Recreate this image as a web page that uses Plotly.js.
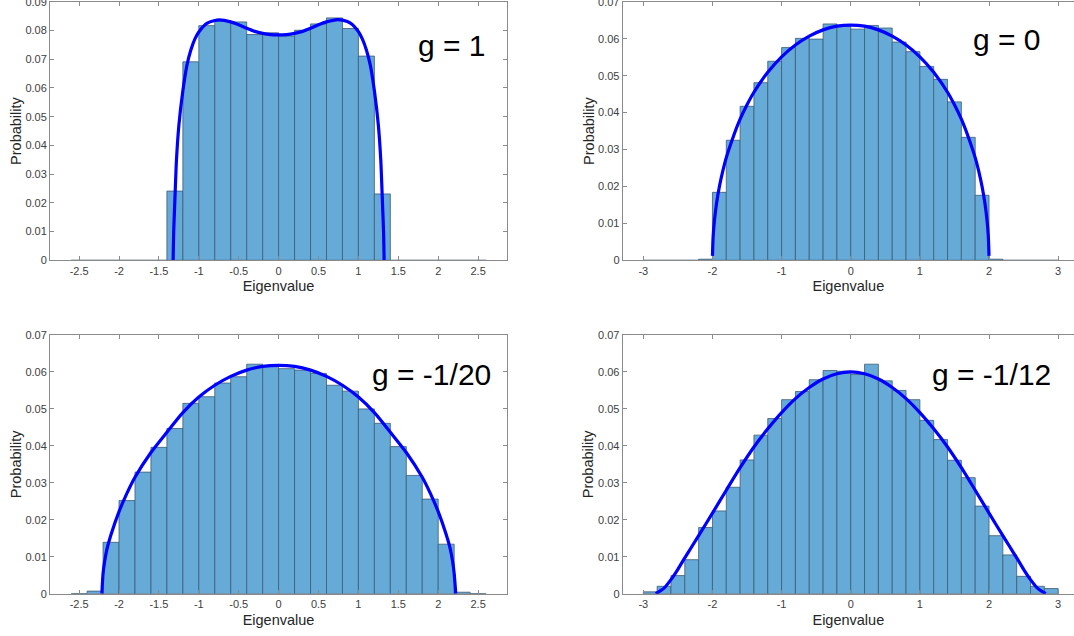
<!DOCTYPE html>
<html><head><meta charset="utf-8">
<script src="https://cdn.plot.ly/plotly-3.0.1.min.js"></script>
<style>html,body{margin:0;padding:0;background:#fff;} #chart{width:1074px;height:636px;}</style>
</head><body><div id="chart"></div>
<script>
// ---- bin centres (bin width 0.2) ----
const binsA = [-2.5,-2.3,-2.1,-1.9,-1.7,-1.5,-1.3,-1.1,-0.9,-0.7,-0.5,-0.3,-0.1,0.1,0.3,0.5,0.7,0.9,1.1,1.3,1.5,1.7,1.9,2.1,2.3,2.5];
const binsB = [-2.9,-2.7,-2.5,-2.3,-2.1,-1.9,-1.7,-1.5,-1.3,-1.1,-0.9,-0.7,-0.5,-0.3,-0.1,0.1,0.3,0.5,0.7,0.9,1.1,1.3,1.5,1.7,1.9,2.1,2.3,2.5,2.7,2.9];
const binWidth = 0.2;

// ---- histogram probabilities ----
const probG1 = [0,0,0,0,0,0,0.0241,0.0691,0.0817,0.0833,0.0830,0.0786,0.0792,0.0781,0.0801,0.0823,0.0844,0.0807,0.0711,0.0231,0,0,0,0,0,0];
const probG0 = [0,0,0,0,0.0003,0.0184,0.0325,0.0417,0.0481,0.0539,0.0576,0.0601,0.0599,0.0640,0.0636,0.0626,0.0636,0.0629,0.0591,0.0565,0.0525,0.0490,0.0429,0.0333,0.0176,0.0003,0,0,0,0];
const probG20 = [0,0.0007,0.0139,0.0252,0.0329,0.0396,0.0447,0.0515,0.0533,0.0570,0.0587,0.0621,0.0617,0.0609,0.0605,0.0596,0.0564,0.0548,0.0500,0.0461,0.0398,0.0320,0.0256,0.0134,0.0004,0];
const probG12 = [0.0005,0.0020,0.0049,0.0092,0.0179,0.0224,0.0288,0.0362,0.0429,0.0474,0.0525,0.0547,0.0579,0.0604,0.0602,0.0593,0.0621,0.0576,0.0550,0.0525,0.0469,0.0417,0.0361,0.0314,0.0237,0.0157,0.0105,0.0047,0.0020,0.0014];

// ---- theoretical curves ----
const curveG1x = [-1.322,-1.315,-1.30,-1.28,-1.25,-1.20,-1.15,-1.10,-1.05,-1.0,-0.9,-0.8,-0.74,-0.6,-0.5,-0.4,-0.3,-0.2,-0.1,0,0.1,0.2,0.3,0.4,0.5,0.6,0.74,0.8,0.9,1.0,1.05,1.10,1.15,1.20,1.25,1.28,1.30,1.315,1.322];
const curveG1y = [0,0.010,0.021,0.035,0.047,0.059,0.0678,0.0732,0.0770,0.0795,0.0825,0.0835,0.0837,0.0830,0.0820,0.0808,0.0797,0.0790,0.0786,0.0785,0.0786,0.0790,0.0797,0.0808,0.0820,0.0830,0.0838,0.0836,0.0826,0.0796,0.0770,0.0732,0.0678,0.059,0.047,0.035,0.021,0.010,0];
const curveG0x = [-2.0,-1.99,-1.97,-1.94,-1.9,-1.85,-1.8,-1.7,-1.6,-1.5,-1.4,-1.2,-1.0,-0.8,-0.6,-0.4,-0.2,0,0.2,0.4,0.6,0.8,1.0,1.2,1.4,1.5,1.6,1.7,1.8,1.85,1.9,1.94,1.97,1.99,2.0];
const curveG0y = [0.0012,0.0064,0.0110,0.0155,0.0199,0.0242,0.0278,0.0334,0.0382,0.0421,0.0455,0.0509,0.0551,0.0583,0.0607,0.0624,0.0634,0.0637,0.0634,0.0624,0.0607,0.0583,0.0551,0.0509,0.0455,0.0421,0.0382,0.0334,0.0278,0.0242,0.0199,0.0155,0.0110,0.0064,0.0012];
const curveG20x = [-2.215,-2.20,-2.18,-2.15,-2.10,-2.0,-1.9,-1.8,-1.6,-1.4,-1.2,-1.0,-0.8,-0.6,-0.4,-0.2,0,0.2,0.4,0.6,0.8,1.0,1.2,1.4,1.6,1.8,1.9,2.0,2.10,2.15,2.18,2.20,2.22];
const curveG20y = [0,0.0055,0.0088,0.0122,0.0160,0.0222,0.0272,0.0315,0.0382,0.0437,0.0490,0.0532,0.0564,0.0588,0.0605,0.0615,0.0618,0.0615,0.0605,0.0588,0.0564,0.0532,0.0490,0.0437,0.0382,0.0315,0.0272,0.0222,0.0160,0.0122,0.0088,0.0055,0];
const curveG12x = [-2.82,-2.7,-2.6,-2.5,-2.4,-2.3,-2.2,-2.0,-1.8,-1.6,-1.4,-1.2,-1.0,-0.8,-0.6,-0.4,-0.2,0,0.2,0.4,0.6,0.8,1.0,1.2,1.4,1.6,1.8,2.0,2.2,2.3,2.4,2.5,2.6,2.7,2.82];
const curveG12y = [0,0.0015,0.0038,0.0066,0.0097,0.0127,0.0157,0.0218,0.0280,0.0341,0.0397,0.0446,0.0490,0.0528,0.0558,0.0581,0.0595,0.0600,0.0595,0.0581,0.0558,0.0528,0.0490,0.0446,0.0397,0.0341,0.0280,0.0218,0.0157,0.0127,0.0097,0.0066,0.0038,0.0015,0];

// ---- tick labels ----
const xTicksA = [-2.5,-2,-1.5,-1,-0.5,0,0.5,1,1.5,2,2.5];
const xTextA = ['-2.5','-2','-1.5','-1','-0.5','0','0.5','1','1.5','2','2.5'];
const xTicksB = [-3,-2,-1,0,1,2,3];
const xTextB = ['-3','-2','-1','0','1','2','3'];
const yTicks9 = [0,0.01,0.02,0.03,0.04,0.05,0.06,0.07,0.08,0.09];
const yText9 = ['0','0.01','0.02','0.03','0.04','0.05','0.06','0.07','0.08','0.09'];
const yTicks7 = yTicks9.slice(0,8), yText7 = yText9.slice(0,8);

const labels = ['g = 1','g = 0','g = -1/20','g = -1/12'];

const FONT = 'Liberation Sans, Arial, Helvetica, sans-serif';
const barColor = '#66aad7', edgeColor = '#3d5c72', curveColor = '#0000ff';
const axisColor = '#8a8a8a';

function barTrace(x, y, xa, ya){
  return {type:'bar', x:x, y:y, width:binWidth, xaxis:xa, yaxis:ya,
    marker:{color:barColor, line:{color:edgeColor, width:0.8}}, hoverinfo:'x+y'};
}
function curveTrace(x, y, xa, ya){
  return {type:'scatter', mode:'lines', x:x, y:y, xaxis:xa, yaxis:ya,
    line:{color:curveColor, width:3.2, shape:'spline', smoothing:0.7}};
}
const data = [
  barTrace(binsA, probG1, 'x', 'y'), curveTrace(curveG1x, curveG1y, 'x', 'y'),
  barTrace(binsB, probG0, 'x2', 'y2'), curveTrace(curveG0x, curveG0y, 'x2', 'y2'),
  barTrace(binsA, probG20, 'x3', 'y3'), curveTrace(curveG20x, curveG20y, 'x3', 'y3'),
  barTrace(binsB, probG12, 'x4', 'y4'), curveTrace(curveG12x, curveG12y, 'x4', 'y4')
];

function xAxis(domain, range, tv, tt, anchor){
  return {domain:domain, range:range, anchor:anchor, tickvals:tv, ticktext:tt,
    showline:true, mirror:'ticks', linecolor:axisColor, linewidth:1,
    ticks:'inside', ticklen:4, tickcolor:axisColor, showgrid:false, zeroline:false,
    tickfont:{family:FONT, size:11, color:'#404040'},
    title:{text:'Eigenvalue', font:{family:FONT, size:14.5, color:'#262626'}, standoff:5}};
}
function yAxis(domain, range, tv, tt, anchor, mirror){
  return {domain:domain, range:range, anchor:anchor, tickvals:tv, ticktext:tt,
    showline:true, mirror:mirror, linecolor:axisColor, linewidth:1,
    ticks:'inside', ticklen:4, tickcolor:axisColor, showgrid:false, zeroline:false,
    ticklabeloverflow:'allow',
    tickfont:{family:FONT, size:11, color:'#404040'},
    title:{text:'Probability', font:{family:FONT, size:14.5, color:'#262626'}, standoff:0}};
}
const W = 1074, H = 636;
const topDom = [1-260.3/H, 1-1.8/H], botDom = [1-593.7/H, 1-335/H];
const leftDom = [50/W, 507/W], rightDom = [622.7/W, 1];
const layout = {
  width:W, height:H, margin:{l:0,r:0,t:0,b:0}, showlegend:false,
  paper_bgcolor:'#fff', plot_bgcolor:'#fff', bargap:0,
  font:{family:FONT},
  xaxis: xAxis(leftDom, [-2.865, 2.862], xTicksA, xTextA, 'y'),
  yaxis: yAxis(topDom, [0, 0.09], yTicks9, yText9, 'x', 'ticks'),
  xaxis2: xAxis(rightDom, [-3.298, 3.229], xTicksB, xTextB, 'y2'),
  yaxis2: yAxis(topDom, [0, 0.07], yTicks7, yText7, 'x2', false),
  xaxis3: xAxis(leftDom, [-2.865, 2.862], xTicksA, xTextA, 'y3'),
  yaxis3: yAxis(botDom, [0, 0.07], yTicks7, yText7, 'x3', 'ticks'),
  xaxis4: xAxis(rightDom, [-3.298, 3.229], xTicksB, xTextB, 'y4'),
  yaxis4: yAxis(botDom, [0, 0.07], yTicks7, yText7, 'x4', false),
  annotations: [
    {text:labels[0], xref:'paper', yref:'paper', x:452/W, y:1-45/H},
    {text:labels[1], xref:'paper', yref:'paper', x:1006.7/W, y:1-40/H},
    {text:labels[2], xref:'paper', yref:'paper', x:431/W, y:1-374/H},
    {text:labels[3], xref:'paper', yref:'paper', x:991/W, y:1-374/H}
  ].map(a => Object.assign(a, {showarrow:false, xanchor:'center', yanchor:'middle',
      font:{family:FONT, size:30, color:'#000'}}))
};
Plotly.newPlot('chart', data, layout, {displayModeBar:false, staticPlot:true});
</script>
</body></html>
